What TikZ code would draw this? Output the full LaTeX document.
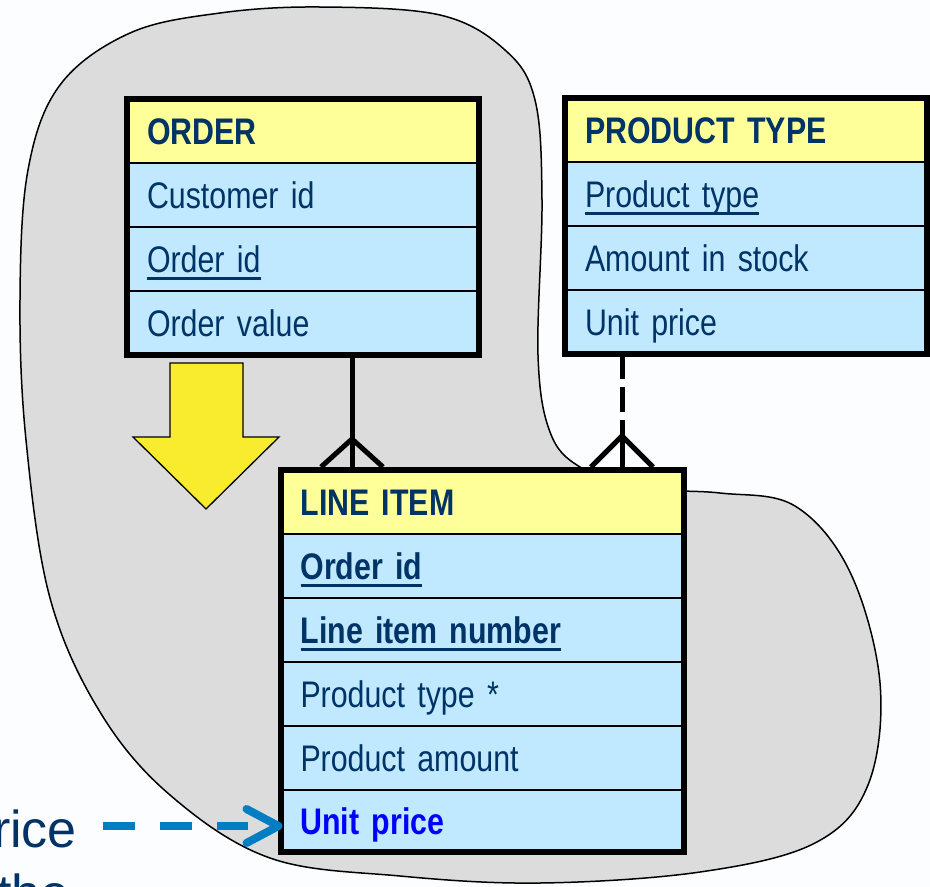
\documentclass[tikz,border=0pt]{standalone}
\usepackage{fontspec}
\setmainfont{Liberation Sans}[FakeStretch=0.82]
\newfontfamily\widefont{Liberation Sans}
\usetikzlibrary{calc,fit}
\definecolor{navy}{RGB}{0,51,102}
\definecolor{hdr}{RGB}{255,255,153}
\definecolor{rowc}{RGB}{192,232,255}
\definecolor{blobc}{RGB}{220,220,220}
\definecolor{arrowy}{RGB}{249,235,45}
\definecolor{linkblue}{RGB}{0,125,195}
\definecolor{upblue}{RGB}{0,0,255}
\definecolor{bgc}{RGB}{252,253,255}
\newcommand{\ulx}[1]{\sbox0{#1}\rlap{\rule[-7.5pt]{\wd0}{2.8pt}}\usebox0}
\newcommand{\cellfont}{\fontsize{37}{44}\selectfont\spaceskip=8.4pt\relax}
\newcommand{\cellbold}{\fontsize{37}{44}\selectfont\bfseries\spaceskip=8.4pt\relax}
\tikzset{
  cell/.style={rectangle, draw=black, line width=1.5pt, inner xsep=20pt, inner ysep=0pt,
    outer sep=0pt, minimum height=64pt, text height=26.5pt, text depth=0pt,
    anchor=north west, align=left, text=navy, font=\cellfont, fill=rowc},
  hcell/.style={cell, fill=hdr, font=\cellbold},
  bcell/.style={cell, font=\cellbold},
  ocell/.style={text width=312pt},
  pcell/.style={text width=322pt},
  lcell/.style={text width=363.5pt},
  tabframe/.style={draw=black, line width=6pt, inner sep=0pt},
  rel/.style={draw=black, line width=5pt},
}
\begin{document}
\begin{tikzpicture}[x=1pt,y=-1pt]
\path[use as bounding box] (0,0) rectangle (930,887);
\clip (0,0) rectangle (930,887);
\fill[bgc] (0,0) rectangle (930,887);
% blob
\draw[fill=blobc, line width=1.5pt] plot[smooth cycle, tension=0.6] coordinates {
 (320,7) (440,15) (505,50) (535,100) (542,200) (538,355) (550,432) (580,467)
 (640,488) (720,493) (795,506) (850,572) (880,683) (868,785) (815,843) (700,872)
 (540,883) (400,876) (270,858) (170,795) (100,712) (50,598) (26,440) (20,300)
 (28,170) (60,85) (130,33) (220,13)};
% yellow arrow
\draw[fill=arrowy, draw=black, line width=1.3pt] (170,363) -- (243,363) -- (243,437) -- (279,437)
  -- (206,509) -- (133,437) -- (170,437) -- cycle;
% ORDER
\node[hcell, ocell] (o-h) at (127,99) {ORDER};
\node[cell, ocell] (o-1) at (o-h.south west) {Customer id};
\node[cell, ocell] (o-2) at (o-1.south west) {\ulx{Order id}};
\node[cell, ocell] (o-3) at (o-2.south west) {Order value};
\node[tabframe, fit=(o-h)(o-3)] (order) {};
% PRODUCT TYPE
\node[hcell, pcell] (p-h) at (565,98) {PRODUCT TYPE};
\node[cell, pcell] (p-1) at (p-h.south west) {\ulx{Product type}};
\node[cell, pcell] (p-2) at (p-1.south west) {Amount in stock};
\node[cell, pcell] (p-3) at (p-2.south west) {Unit price};
\node[tabframe, fit=(p-h)(p-3)] (ptype) {};
% LINE ITEM
\node[hcell, lcell] (l-h) at (280.5,470) {LINE ITEM};
\node[bcell, lcell] (l-1) at (l-h.south west) {\ulx{Order id}};
\node[bcell, lcell] (l-2) at (l-1.south west) {\ulx{Line item number}};
\node[cell, lcell] (l-3) at (l-2.south west) {Product type *};
\node[cell, lcell] (l-4) at (l-3.south west) {Product amount};
\node[bcell, lcell, text=upblue, minimum height=62pt] (l-5) at (l-4.south west) {Unit price};
\node[tabframe, fit=(l-h)(l-5)] (li) {};
% relationship ORDER - LINE ITEM
\coordinate (ft1) at (352,439);
\draw[rel] (ft1 |- order.south) -- (ft1 |- li.north);
\draw[rel] ($(ft1 |- li.north)+(-31,0)$) -- (ft1) -- ($(ft1 |- li.north)+(31,0)$);
% relationship PRODUCT TYPE - LINE ITEM
\coordinate (ft2) at (622,436);
\draw[rel, dash pattern=on 22pt off 8pt on 25pt off 8pt on 200pt off 1pt] (ft2 |- ptype.south) -- (ft2 |- li.north);
\draw[rel] ($(ft2 |- li.north)+(-31,0)$) -- (ft2) -- ($(ft2 |- li.north)+(31,0)$);
% blue dashed arrow
\coordinate (bsrc) at (103,826);
\coordinate (btip) at ($(l-5.west)+(-2,5)$);
\draw[linkblue, line width=8pt, dash pattern=on 32pt off 25pt] (bsrc) -- ($(btip)+(-31,0)$);
\draw[linkblue, line width=8pt, line cap=round, line join=round] ($(btip)+(-32,-17)$) -- (btip) -- ($(btip)+(-32,17)$);
% cut-off text at left
\node[anchor=base east, inner sep=0pt, text=navy, font=\widefont\fontsize{52}{62}\selectfont] (t1) at (77,847) {rice};
\node[anchor=base west, inner sep=0pt, text=navy, font=\widefont\fontsize{52}{62}\selectfont] (t2) at (-3,911) {the};
\end{tikzpicture}
\end{document}
